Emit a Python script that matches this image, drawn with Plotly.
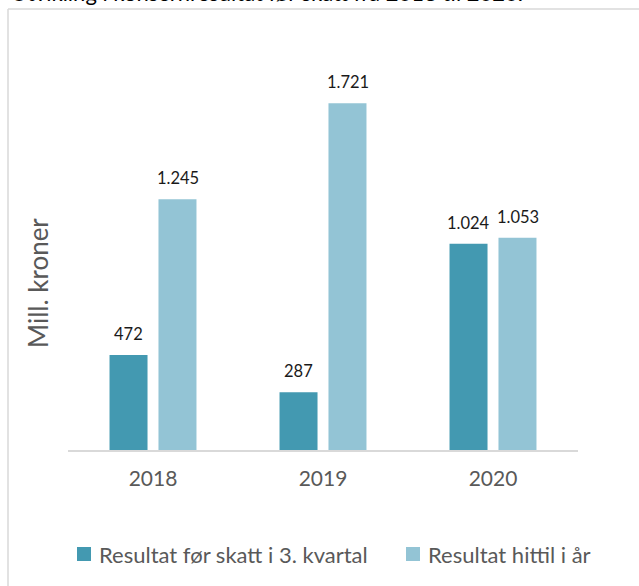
import plotly.graph_objects as go

years = ["2018", "2019", "2020"]
series_names = ["Resultat før skatt i 3. kvartal", "Resultat hittil i år"]
q3_values = [472, 287, 1024]
ytd_values = [1245, 1721, 1053]
colors = ["#4399B1", "#93C4D5"]
title_text = "Utvikling i konsernresultat før skatt fra 2018 til 2020."
y_title = "Mill. kroner"

FONT = "Lato"
GRAY = "#595959"

W, H = 639, 586
L, R, T, B = 68, 578, 47, 450  # plot area pixels


def px_x(px):
    return (px - L) / (R - L)


def px_y(py):
    return (B - py) / (B - T)


fig = go.Figure()
for name, vals, col in zip(series_names, [q3_values, ytd_values], colors):
    fig.add_trace(go.Bar(x=years, y=vals, name=name, marker_color=col,
                         marker_line_width=0, showlegend=False))


def fmt(v):
    return f"{v:,}".replace(",", ".")


annotations = []
for shift, vals in zip([-24.5, 24.5], [q3_values, ytd_values]):
    for i, v in enumerate(vals):
        annotations.append(dict(x=i, y=v, xref="x", yref="y", text=fmt(v),
                                showarrow=False, xshift=shift, yshift=9,
                                yanchor="bottom", xanchor="center",
                                font=dict(family=FONT, size=16.5, color="#1a1a1a")))

# y-axis title
annotations.append(dict(x=px_x(38), y=px_y(283), xref="paper", yref="paper",
                        text=y_title, textangle=-90, showarrow=False,
                        xanchor="center", yanchor="middle",
                        font=dict(family=FONT, size=26, color=GRAY)))

# cut-off title at top
annotations.append(dict(x=px_x(9), y=px_y(8), xref="paper", yref="paper",
                        text=title_text, showarrow=False,
                        xanchor="left", yanchor="bottom",
                        font=dict(family=FONT, size=22, color="#000000")))

# manual legend
shapes = []
leg_marker_x = [77, 406]
leg_text_x = [97, 426]
for mx, tx, name, col in zip(leg_marker_x, leg_text_x, series_names, colors):
    shapes.append(dict(type="rect", xref="paper", yref="paper",
                       x0=px_x(mx), x1=px_x(mx + 14), y0=px_y(561), y1=px_y(547),
                       fillcolor=col, line_width=0))
    annotations.append(dict(x=px_x(tx), y=px_y(554), xref="paper", yref="paper",
                            text=name, showarrow=False, xanchor="left", yanchor="middle",
                            font=dict(family=FONT, size=22, color=GRAY)))

# chart frame (partly cut off)
frame_col = "#D9D9D9"
shapes.append(dict(type="line", xref="paper", yref="paper",
                   x0=px_x(8), x1=px_x(8), y0=px_y(600), y1=px_y(9),
                   line=dict(color=frame_col, width=1.5)))
shapes.append(dict(type="line", xref="paper", yref="paper",
                   x0=px_x(8), x1=px_x(650), y0=px_y(9), y1=px_y(9),
                   line=dict(color=frame_col, width=1.5)))

fig.update_layout(
    width=W, height=H,
    margin=dict(l=L, r=W - R, t=T, b=H - B, pad=0),
    paper_bgcolor="white", plot_bgcolor="white",
    barmode="group", bargap=0.424, bargroupgap=0.224,
    annotations=annotations, shapes=shapes,
    font=dict(family=FONT, color=GRAY),
)
fig.update_xaxes(type="category", range=[-0.5, 2.5], showline=True,
                 linecolor="#D9D9D9", linewidth=2, showgrid=False,
                 ticks="outside", ticklen=9, tickcolor="rgba(0,0,0,0)",
                 tickfont=dict(family=FONT, size=21, color=GRAY), fixedrange=True)
fig.update_yaxes(range=[0, 2000], visible=False, showgrid=False, fixedrange=True)

fig.write_html("out.html", config={"displayModeBar": False})
